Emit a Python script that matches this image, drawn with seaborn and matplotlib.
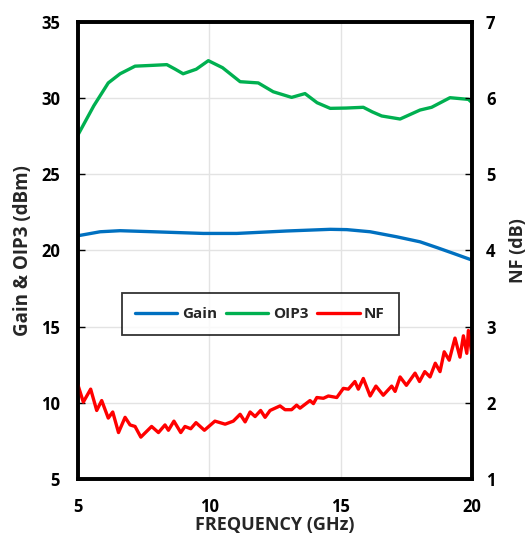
import matplotlib
matplotlib.use("Agg")
import matplotlib.pyplot as plt
import seaborn as sns
import pandas as pd
from matplotlib import font_manager

# ---- data ----
gain_freq = [5.0, 5.84, 6.6, 7.87, 9.77, 11.04, 12.94, 14.6, 15.23, 16.12, 17.13, 18.02, 18.65, 19.29, 20.0]
gain_db = [20.97, 21.23, 21.3, 21.23, 21.12, 21.12, 21.28, 21.39, 21.37, 21.23, 20.9, 20.57, 20.2, 19.81, 19.37]

oip3_freq = [5.0, 5.6, 6.15, 6.6, 7.17, 7.8, 8.38, 8.7, 9.0, 9.5, 9.96, 10.5, 11.17, 11.86, 12.43,
             13.13, 13.64, 14.1, 14.6, 15.2, 15.86, 16.2, 16.56, 17.26, 18.02, 18.46, 19.16, 19.86, 20.0]
oip3_db = [27.6, 29.5, 31.0, 31.6, 32.1, 32.15, 32.2, 31.9, 31.6, 31.9, 32.46, 32.0, 31.08, 31.0, 30.42,
           30.05, 30.3, 29.7, 29.33, 29.35, 29.4, 29.1, 28.83, 28.63, 29.22, 29.4, 30.03, 29.92, 29.7]

nf_freq = [5.0, 5.2, 5.48, 5.71, 5.9, 6.15, 6.32, 6.54, 6.79, 6.98, 7.17, 7.39, 7.8, 8.06, 8.31,
           8.44, 8.65, 8.91, 9.07, 9.29, 9.49, 9.81, 10.21, 10.6, 10.91, 11.17, 11.36, 11.55, 11.74,
           11.95, 12.12, 12.31, 12.69, 12.88, 13.13, 13.32, 13.45, 13.83, 13.96, 14.09, 14.34, 14.53,
           14.85, 15.1, 15.29, 15.54, 15.67, 15.86, 16.12, 16.34, 16.62, 16.94, 17.07, 17.26, 17.5,
           17.83, 18.0, 18.2, 18.4, 18.6, 18.78, 18.94, 19.13, 19.35, 19.54, 19.67, 19.8, 19.86,
           19.99, 20.0]
nf_db = [2.23, 2.01, 2.18, 1.90, 2.03, 1.80, 1.88, 1.61, 1.81, 1.71, 1.69, 1.55, 1.69, 1.61, 1.71,
         1.64, 1.76, 1.61, 1.69, 1.66, 1.74, 1.64, 1.76, 1.72, 1.76, 1.85, 1.75, 1.88, 1.82,
         1.90, 1.81, 1.90, 1.96, 1.91, 1.91, 1.97, 1.93, 2.03, 1.99, 2.07, 2.06, 2.09,
         2.07, 2.19, 2.18, 2.28, 2.18, 2.32, 2.09, 2.22, 2.10, 2.22, 2.15, 2.34, 2.23,
         2.39, 2.28, 2.41, 2.34, 2.52, 2.41, 2.67, 2.56, 2.85, 2.60, 2.88, 2.65, 2.95,
         2.65, 2.74]

x_ticks = [5, 10, 15, 20]
left_ticks = [5, 10, 15, 20, 25, 30, 35]
right_ticks = [1, 2, 3, 4, 5, 6, 7]

sns.set_theme(style="white")

# pick a family that really has a bold face
fam = "DejaVu Sans"
for cand in ["Open Sans", "Lato", "Noto Sans", "Liberation Sans"]:
    try:
        p = font_manager.findfont(font_manager.FontProperties(family=cand, weight="bold"),
                                  fallback_to_default=False)
        if "bold" in p.lower() or "black" in p.lower() or "heavy" in p.lower():
            fam = cand
            break
    except Exception:
        pass
plt.rcParams['font.family'] = [fam, 'DejaVu Sans']
plt.rcParams['font.weight'] = 'bold'

fig = plt.figure(figsize=(5.31, 5.36), dpi=100)
ax = fig.add_axes([0.147, 0.1063, 0.742, 0.8527])
ax2 = ax.twinx()

c_gain, c_oip3, c_nf = "#0070C0", "#00B050", "#FF0000"

df_g = pd.DataFrame({"f": gain_freq, "v": gain_db})
df_o = pd.DataFrame({"f": oip3_freq, "v": oip3_db})
df_n = pd.DataFrame({"f": nf_freq, "v": nf_db})

sns.lineplot(data=df_g, x="f", y="v", ax=ax, color=c_gain, lw=2.4, label="Gain", legend=False)
sns.lineplot(data=df_o, x="f", y="v", ax=ax, color=c_oip3, lw=2.4, label="OIP3", legend=False)
sns.lineplot(data=df_n, x="f", y="v", ax=ax2, color=c_nf, lw=2.4, label="NF", legend=False)

ax.set_xlim(5, 20)
ax.set_ylim(5, 35)
ax2.set_ylim(1, 7)
ax.set_xticks(x_ticks)
ax.set_yticks(left_ticks)
ax2.set_yticks(right_ticks)

ax.grid(True, color="#E3E3E3", lw=1.0)
ax.set_axisbelow(True)

for a in (ax, ax2):
    for s in a.spines.values():
        s.set_color("black")
        s.set_linewidth(2.6)

ax.tick_params(axis="both", direction="in", length=5, width=1, labelsize=12, colors="black", pad=13)
ax.tick_params(axis="x", pad=14)
ax2.tick_params(axis="y", direction="in", length=5, width=1, labelsize=12, colors="black", pad=10)
for lab in ax.get_xticklabels() + ax.get_yticklabels() + ax2.get_yticklabels():
    lab.set_fontweight("bold")

ax.set_xlabel("FREQUENCY (GHz)", fontsize=13, fontweight="bold", labelpad=0)
ax.set_ylabel("Gain & OIP3 (dBm)", fontsize=13.5, fontweight="bold", labelpad=6)
ax2.set_ylabel("NF (dB)", fontsize=13, fontweight="bold", labelpad=10)

h1, l1 = ax.get_legend_handles_labels()
h2, l2 = ax2.get_legend_handles_labels()
leg = ax2.legend(h1 + h2, l1 + l2, loc="center", bbox_to_anchor=(0.462, 0.361), ncol=3,
                 frameon=True, fancybox=False, edgecolor="black",
                 handlelength=2.75, columnspacing=0.6, handletextpad=0.3,
                 borderpad=0.9, prop={"family": [fam, "DejaVu Sans"], "weight": "bold", "size": 11})
leg.get_frame().set_linewidth(1.3)

fig.savefig("out.png", dpi=100)
